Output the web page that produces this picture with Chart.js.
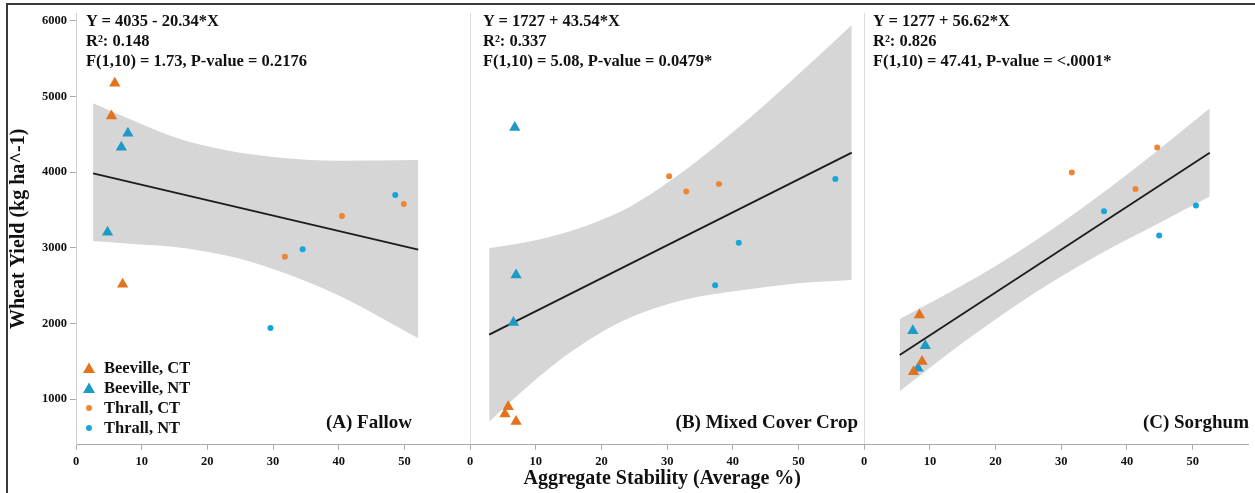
<!DOCTYPE html>
<html>
<head>
<meta charset="utf-8">
<script src="https://cdn.jsdelivr.net/npm/chart.js@4.4.1/dist/chart.umd.min.js"></script>
<style>
body { margin: 0; background: #fff; }
#wrap { position: relative; width: 1255px; height: 493px; overflow: hidden; font-family: 'Liberation Serif', 'Times New Roman', serif; font-weight: bold; color: #111; }
#frame { position: absolute; left: 6px; top: 3px; right: -4px; bottom: -4px; border-top: 2px solid #3a3a3a; border-left: 2px solid #3a3a3a; pointer-events: none; }
.fit { position: absolute; font-size: 16.5px; line-height: 20px; white-space: nowrap; }
.plabel { position: absolute; font-size: 19px; white-space: nowrap; transform: translate(-100%, -50%); }
#legend { position: absolute; left: 82px; top: 358px; font-size: 16.5px; }
#legend div { height: 20px; line-height: 20px; display: flex; align-items: center; white-space: nowrap; }
#legend svg { width: 14px; height: 14px; margin-right: 8px; }
</style>
</head>
<body>
<div id="wrap">
  <canvas id="chart" width="1255" height="493"></canvas>
  <div id="legend"></div>
  <div id="frame"></div>
</div>
<script>
// three panels share one linear x axis, each panel spans 60 units
var panels = ['(A) Fallow', '(B) Mixed Cover Crop', '(C) Sorghum'];
var panelSpan = 60;
var yTicks = [1000, 2000, 3000, 4000, 5000, 6000];

// [aggregate stability %, wheat yield], one list per panel (A, B, C)
var beevilleCT = [
	[[5.9, 5173], [5.4, 4741], [7.1, 2519]],
	[[5.8, 902], [5.3, 806], [7.0, 705]],
	[[8.4, 2113], [8.8, 1497], [7.5, 1364]]
];
var beevilleNT = [
	[[7.9, 4513], [6.9, 4328], [4.8, 3205]],
	[[6.8, 4588], [7.0, 2642], [6.6, 2012]],
	[[7.4, 1906], [9.3, 1708], [8.2, 1410]]
];
var thrallCT = [
	[[40.5, 3421], [49.9, 3579], [31.8, 2883]],
	[[30.3, 3945], [32.9, 3742], [37.9, 3843]],
	[[31.6, 3993], [44.6, 4323], [41.3, 3777]]
];
var thrallNT = [
	[[48.6, 3698], [34.5, 2981], [29.6, 1942]],
	[[55.6, 3909], [40.9, 3068], [37.3, 2505]],
	[[36.5, 3483], [50.5, 3557], [44.9, 3161]]
];

// fitted line end points per panel
var fitLines = [
	[[2.6, 3982], [52.1, 2975]],
	[[2.9, 1853], [58.1, 4257]],
	[[5.4, 1583], [52.6, 4255]]
];

// confidence band edges
var bandX = [
	[2.6, 8.7, 15, 22.7, 30, 40, 52.1],
	[2.9, 9.2, 14.3, 19.3, 24.4, 30.3, 34.5, 39.6, 44.7, 49.7, 58.1],
	[5.4, 15, 25, 35, 45, 52.6]
];
var bandUpper = [
	[4909, 4680, 4460, 4290, 4200, 4150, 4160],
	[2994, 3087, 3196, 3345, 3544, 3874, 4141, 4498, 4877, 5268, 5943],
	[2060, 2507, 3035, 3642, 4309, 4843]
];
var bandLower = [
	[3090, 3050, 3010, 2900, 2720, 2370, 1805],
	[704, 1200, 1560, 1850, 2080, 2260, 2350, 2420, 2480, 2530, 2575],
	[1106, 1745, 2351, 2876, 3330, 3676]
];

var fitText = [
	['Y = 4035 - 20.34*X', 'R²: 0.148', 'F(1,10) = 1.73, P-value = 0.2176'],
	['Y = 1727 + 43.54*X', 'R²: 0.337', 'F(1,10) = 5.08, P-value = 0.0479*'],
	['Y = 1277 + 56.62*X', 'R²: 0.826', 'F(1,10) = 47.41, P-value = <.0001*']
];

var fitLeft = [86, 483, 873];
var labelRight = [412, 858, 1249];

var series = [
	{ label: 'Beeville, CT', data: beevilleCT, color: '#E2721C', style: 'triangle' },
	{ label: 'Beeville, NT', data: beevilleNT, color: '#1E9AC6', style: 'triangle' },
	{ label: 'Thrall, CT', data: thrallCT, color: '#EE8535', style: 'circle' },
	{ label: 'Thrall, NT', data: thrallNT, color: '#17A6D9', style: 'circle' }
];

function shift(points, p) {
	return points.map(function (d) { return { x: d[0] + p * panelSpan, y: d[1] }; });
}

var datasets = [];

series.forEach(function (s) {
	var pts = [];
	s.data.forEach(function (list, p) { pts = pts.concat(shift(list, p)); });
	datasets.push({
		type: 'scatter',
		label: s.label,
		data: pts,
		pointStyle: s.style,
		pointRadius: s.style == 'triangle' ? 6.5 : 3,
		backgroundColor: s.color,
		borderColor: s.color,
		borderWidth: 0,
		order: 0
	});
});

fitLines.forEach(function (line, p) {
	datasets.push({
		type: 'line',
		data: shift(line, p),
		borderColor: '#1c1c1c',
		borderWidth: 1.8,
		pointRadius: 0,
		fill: false,
		order: 1
	});
});

bandX.forEach(function (xs, p) {
	var up = xs.map(function (x, i) { return [x, bandUpper[p][i]]; });
	var lo = xs.map(function (x, i) { return [x, bandLower[p][i]]; });
	datasets.push({
		type: 'line', data: shift(up, p), fill: '+1',
		backgroundColor: '#d6d6d6', borderWidth: 0, pointRadius: 0,
		cubicInterpolationMode: 'monotone', order: 2
	});
	datasets.push({
		type: 'line', data: shift(lo, p), fill: false,
		borderWidth: 0, pointRadius: 0,
		cubicInterpolationMode: 'monotone', order: 2
	});
});

Chart.defaults.font.family = "'Liberation Serif', 'Times New Roman', serif";
Chart.defaults.color = '#111';

var tickFont = { size: 12.5, weight: 'bold' };
var titleFont = { size: 20, weight: 'bold' };

var chart = new Chart(document.getElementById('chart').getContext('2d'), {
	type: 'scatter',
	data: { datasets: datasets },
	options: {
		responsive: false,
		animation: false,
		layout: { padding: { top: 13, right: 4, left: 0, bottom: 0 } },
		plugins: { legend: { display: false }, tooltip: { enabled: false } },
		scales: {
			x: {
				type: 'linear', min: 0, max: 178.5,
				afterFit: function (s) { s.height = 48.3; },
				border: { color: '#aaa' },
				grid: {
					color: function (c) {
						return (c.tick && c.tick.value > 0 && c.tick.value % panelSpan === 0) ? '#dcdcdc' : 'rgba(0,0,0,0)';
					},
					tickColor: '#aaa', tickLength: 5
				},
				ticks: {
					stepSize: 10, includeBounds: false, autoSkip: false, maxRotation: 0,
					padding: 5, font: tickFont,
					callback: function (v) { return v % panelSpan; }
				},
				title: { display: true, text: 'Aggregate Stability (Average %)', font: titleFont, padding: { top: 0, bottom: 2 } }
			},
			y: {
				min: 400, max: 6100,
				afterFit: function (s) { s.width = 76; },
				afterBuildTicks: function (s) { s.ticks = yTicks.map(function (v) { return { value: v }; }); },
				border: { color: '#d0d0d0' },
				grid: { drawOnChartArea: false, tickColor: '#aaa', tickLength: 6 },
				ticks: { padding: 3, font: tickFont, callback: function (v) { return String(v); } },
				title: { display: true, text: 'Wheat Yield (kg ha^-1)', font: titleFont, padding: { top: 7, bottom: 0 } }
			}
		}
	}
});

// regression text and panel names
var wrap = document.getElementById('wrap');
panels.forEach(function (name, p) {
	var t = document.createElement('div');
	t.className = 'fit';
	t.style.left = fitLeft[p] + 'px';
	t.style.top = '11px';
	t.innerHTML = fitText[p].join('<br>');
	wrap.appendChild(t);

	var l = document.createElement('div');
	l.className = 'plabel';
	l.style.left = labelRight[p] + 'px';
	l.style.top = '422px';
	l.textContent = name;
	wrap.appendChild(l);
});

// legend
var legend = document.getElementById('legend');
series.forEach(function (s) {
	var row = document.createElement('div');
	var mark = s.style == 'triangle'
		? '<polygon points="7,1.5 13,12 1,12" fill="' + s.color + '"/>'
		: '<circle cx="7" cy="7" r="3" fill="' + s.color + '"/>';
	row.innerHTML = '<svg viewBox="0 0 14 14">' + mark + '</svg><span>' + s.label + '</span>';
	legend.appendChild(row);
});
</script>
</body>
</html>
